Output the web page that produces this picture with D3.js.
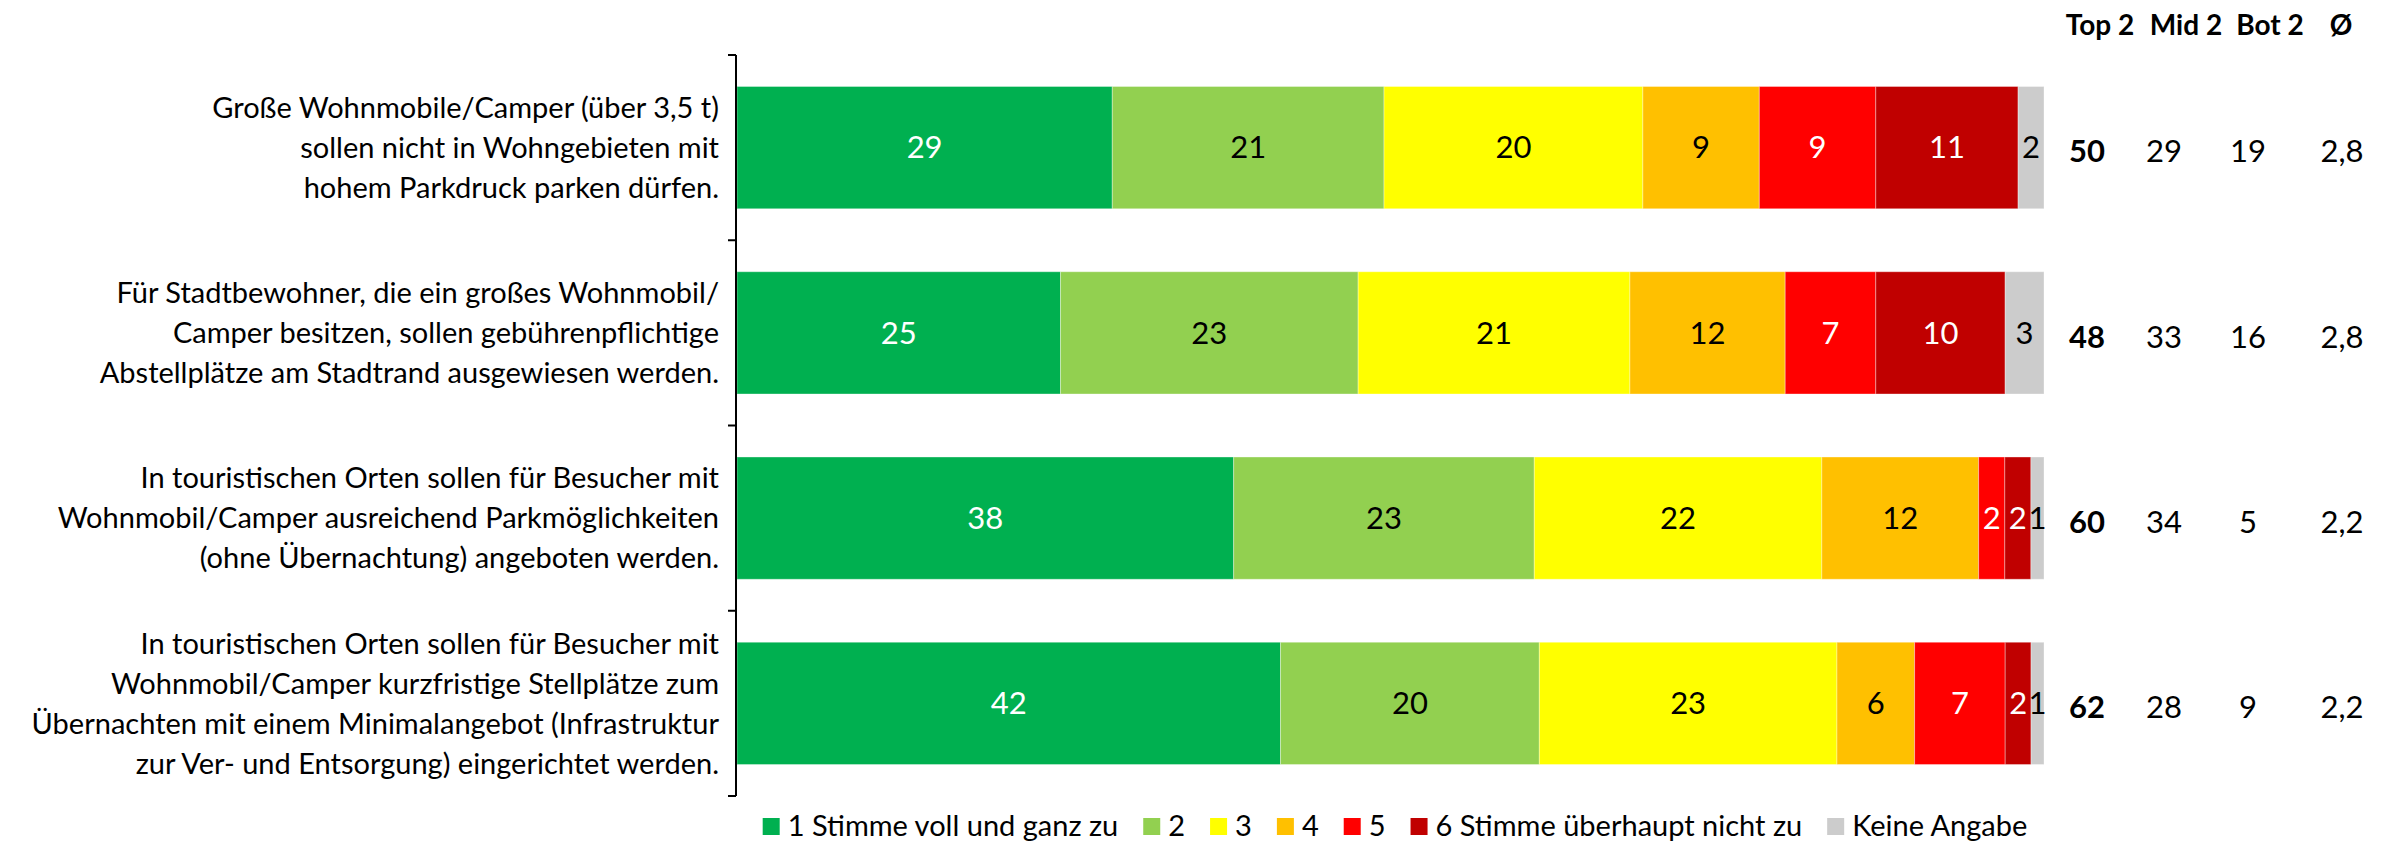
<!DOCTYPE html>
<html><head><meta charset="utf-8">
<script src="https://cdn.jsdelivr.net/npm/d3@7"></script>
<style>body{margin:0;background:#fff}svg{display:block}text{font-family:Lato,"Noto Sans",sans-serif}</style>
</head><body><svg id="c" width="2390" height="845"></svg>
<script>
const categories = [
  ["Große Wohnmobile/Camper (über 3,5 t)","sollen nicht in Wohngebieten mit","hohem Parkdruck parken dürfen."],
  ["Für Stadtbewohner, die ein großes Wohnmobil/","Camper besitzen, sollen gebührenpflichtige","Abstellplätze am Stadtrand ausgewiesen werden."],
  ["In touristischen Orten sollen für Besucher mit","Wohnmobil/Camper ausreichend Parkmöglichkeiten","(ohne Übernachtung) angeboten werden."],
  ["In touristischen Orten sollen für Besucher mit","Wohnmobil/Camper kurzfristige Stellplätze zum","Übernachten mit einem Minimalangebot (Infrastruktur","zur Ver- und Entsorgung) eingerichtet werden."]
];
const seriesNames = ["1 Stimme voll und ganz zu","2","3","4","5","6 Stimme überhaupt nicht zu","Keine Angabe"];
const colors = ["#00B050","#92D050","#FFFF00","#FFC000","#FF0000","#C00000","#CCCCCC"];
const labelColors = ["#fff","#000","#000","#000","#fff","#fff","#000"];
const s1 = [29,25,38,42];
const s2 = [21,23,23,20];
const s3 = [20,21,22,23];
const s4 = [9,12,12,6];
const s5 = [9,7,2,7];
const s6 = [11,10,2,2];
const sKA = [2,3,1,1];
const top2 = ["50","48","60","62"];
const mid2 = ["29","33","34","28"];
const bot2 = ["19","16","5","9"];
const avg = ["2,8","2,8","2,2","2,2"];
const summaryHeaders = ["Top 2","Mid 2","Bot 2","Ø"];

const series = [s1,s2,s3,s4,s5,s6,sKA];
const svg = d3.select("#c");
const FS = 29, NFS = 31;
const axisX = 736, barRight = 2044, yTop = 55, yBot = 796;

const y = d3.scaleBand().domain(d3.range(categories.length)).range([yTop,yBot]).paddingInner(0.34).paddingOuter(0.17);
const x = d3.scaleLinear().domain([0,1]).range([axisX+1,barRight]);

categories.forEach((cat,i)=>{
  const vals = series.map(s=>s[i]);
  const total = d3.sum(vals);
  let cum = 0;
  const g = svg.append("g");
  vals.forEach((v,k)=>{
    const x0 = x(cum/total), x1 = x((cum+v)/total);
    cum += v;
    g.append("rect").attr("x",x0).attr("y",y(i)).attr("width",x1-x0).attr("height",y.bandwidth())
      .attr("fill",colors[k]).attr("stroke","rgba(255,255,255,0.35)").attr("stroke-width",1);
    g.append("text").attr("x",(x0+x1)/2).attr("y",y(i)+y.bandwidth()/2).attr("dy","0.35em")
      .attr("text-anchor","middle").attr("font-size",NFS).attr("fill",labelColors[k]).text(v);
  });
  const lines = cat;
  const lh = 40;
  const cy = y(i)+y.bandwidth()/2;
  const t = svg.append("text").attr("text-anchor","end").attr("font-size",FS).attr("fill","#000");
  lines.forEach((ln,j)=>{
    t.append("tspan").attr("x",719).attr("y",cy+(j-(lines.length-1)/2)*lh).attr("dy","0.35em").text(ln);
  });
});

// axis
const step = y.step();
const ag = svg.append("g").attr("stroke","#000").attr("stroke-width",2);
ag.append("line").attr("x1",axisX).attr("x2",axisX).attr("y1",yTop).attr("y2",yBot);
d3.range(categories.length+1).forEach(i=>{
  const ty = yTop + i*step;
  ag.append("line").attr("x1",axisX-8).attr("x2",axisX).attr("y1",ty).attr("y2",ty);
});

// summary columns
const colX = [2087,2164,2248,2342];
const hdrX = [2100,2186,2270,2341];
summaryHeaders.forEach((h,k)=>{
  svg.append("text").attr("x",hdrX[k]).attr("y",25).attr("dy","0.35em").attr("text-anchor","middle")
    .attr("font-size",FS-1).attr("font-weight","bold").text(h);
});
[top2,mid2,bot2,avg].forEach((arr,k)=>{
  arr.forEach((v,i)=>{
    svg.append("text").attr("x",colX[k]).attr("y",y(i)+y.bandwidth()/2+4).attr("dy","0.35em").attr("text-anchor","middle")
      .attr("font-size",NFS).attr("font-weight",k===0?"bold":"normal").text(v);
  });
});

// legend
const lg = svg.append("g");
let lx = 0;
seriesNames.forEach((n,k)=>{
  lg.append("rect").attr("x",lx).attr("y",818).attr("width",17).attr("height",17).attr("fill",colors[k]);
  const tt = lg.append("text").attr("x",lx+25).attr("y",826).attr("dy","0.35em").attr("font-size",FS).text(n);
  lx += 25 + tt.node().getComputedTextLength() + 25;
});
lx -= 25;
lg.attr("transform",`translate(${1395-lx/2},0)`);
</script></body></html>
